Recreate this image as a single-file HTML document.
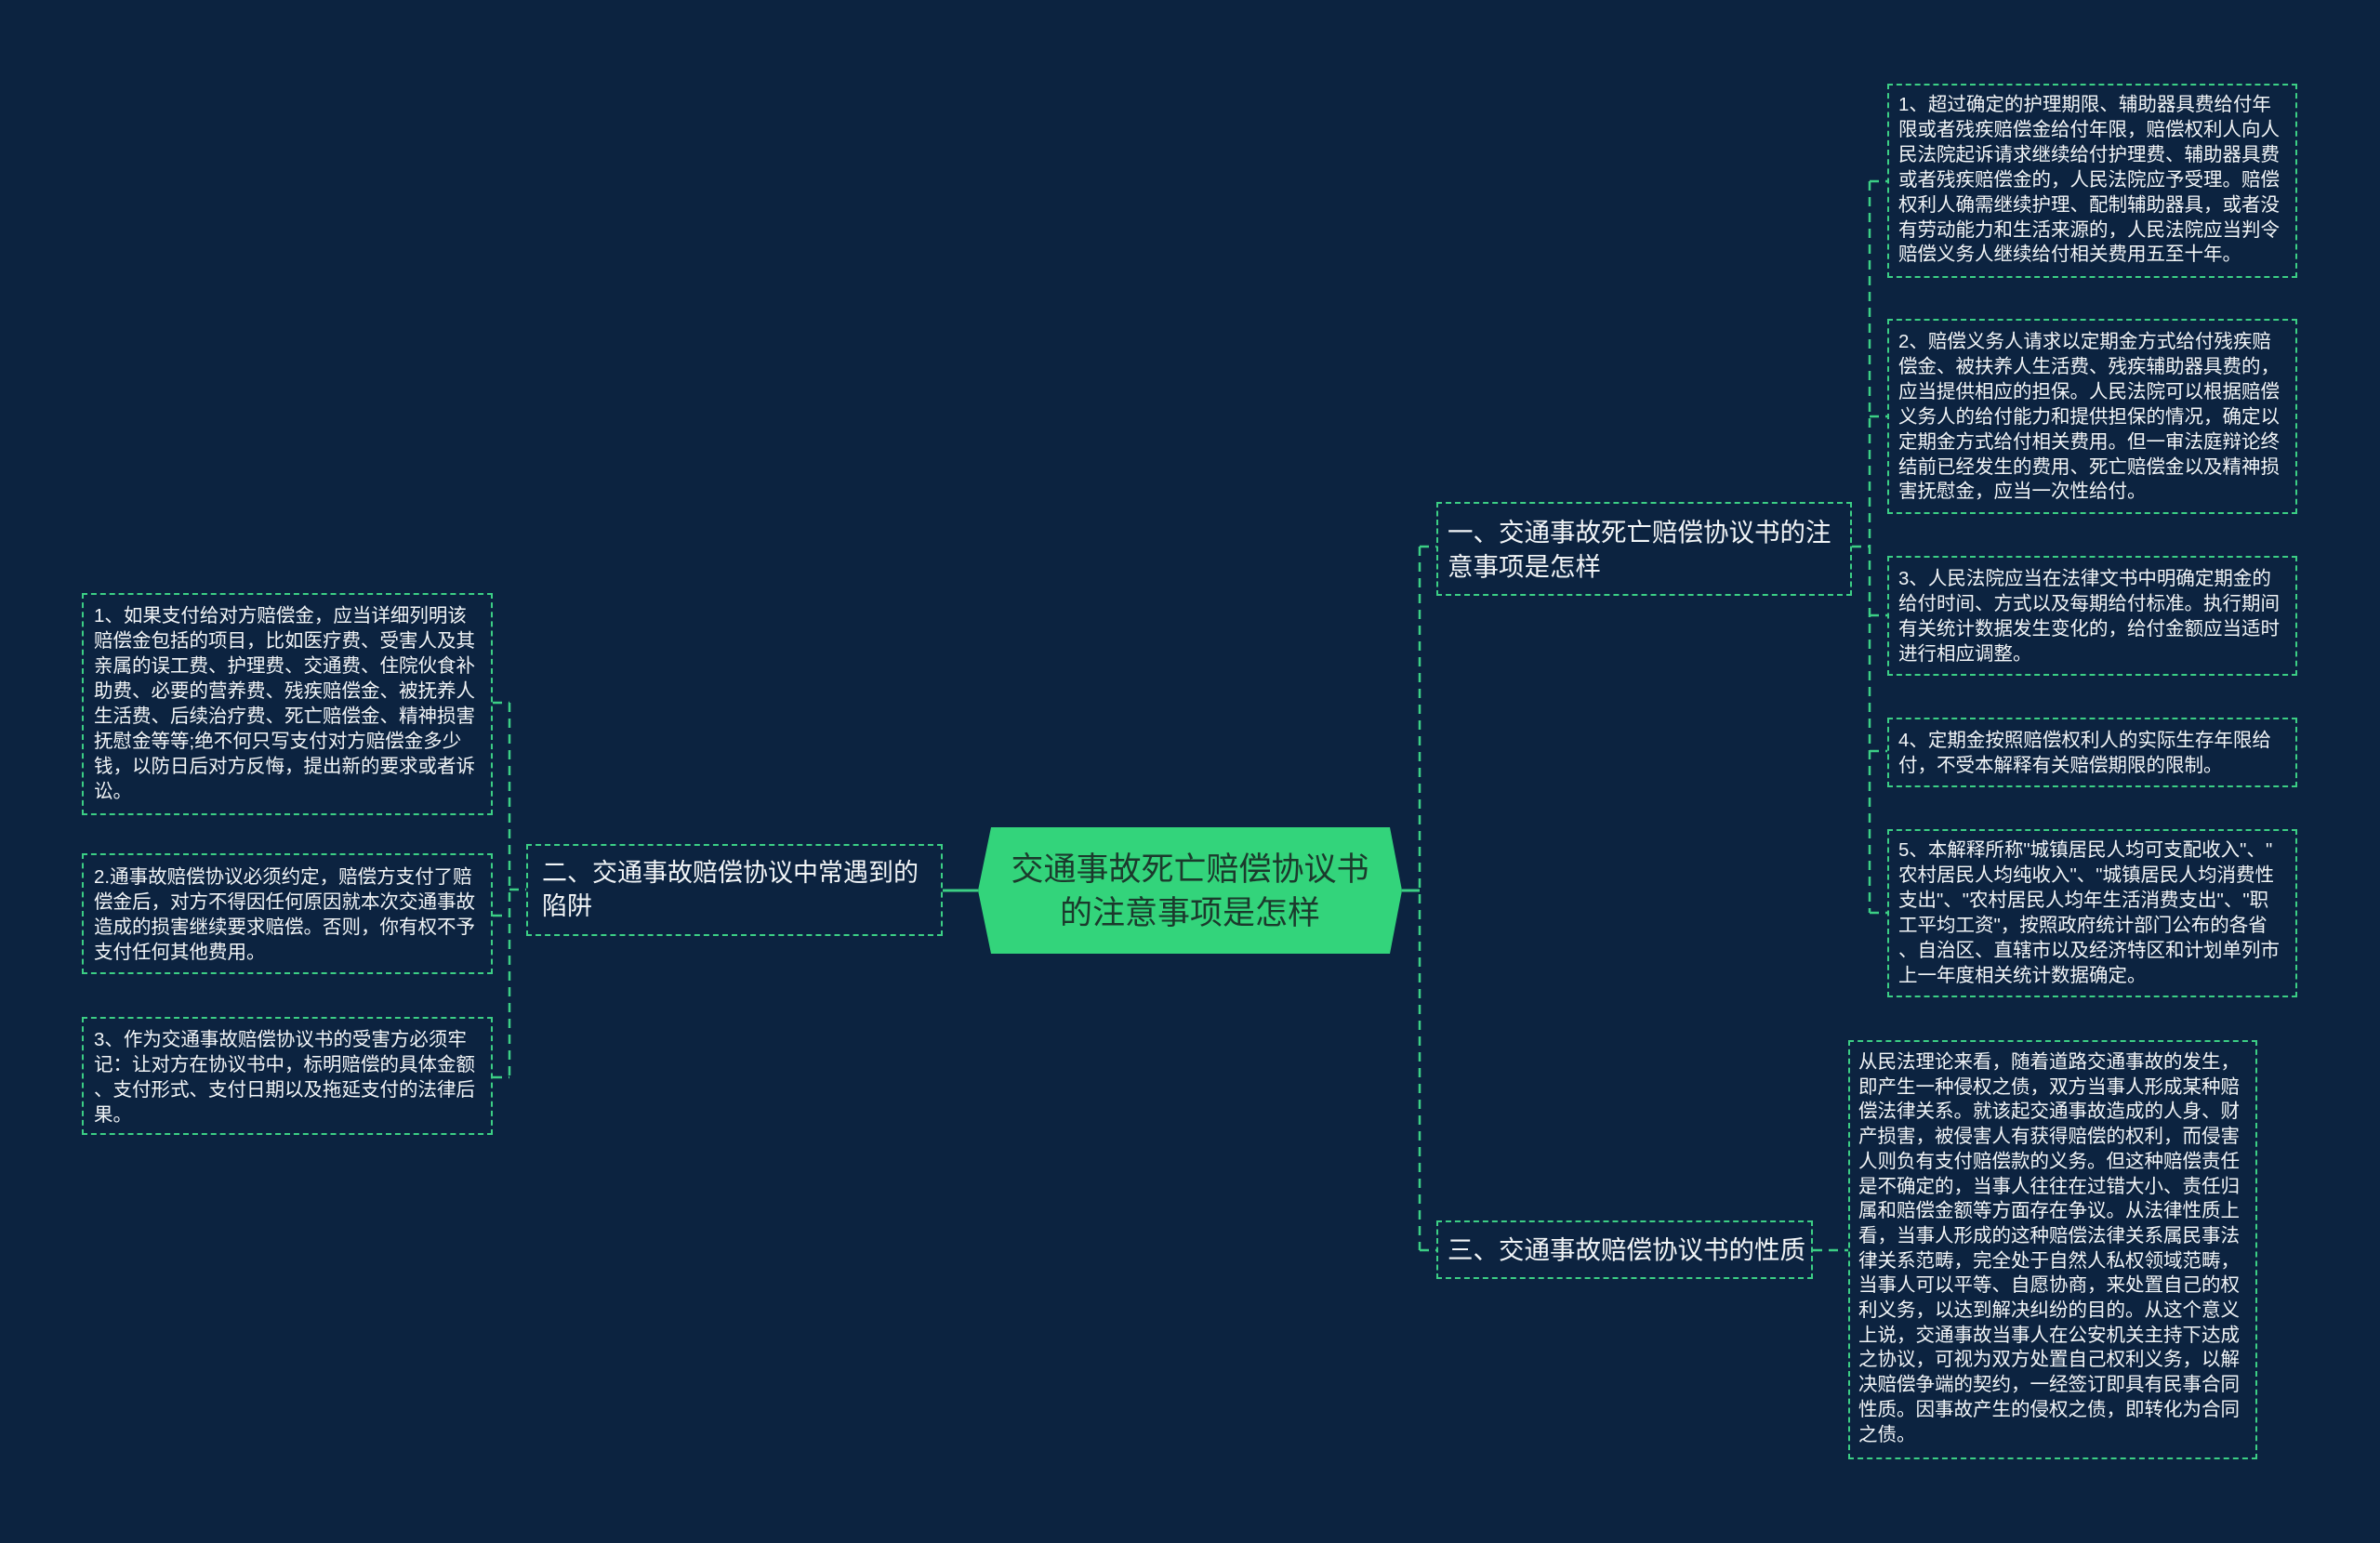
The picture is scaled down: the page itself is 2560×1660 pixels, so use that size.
<!DOCTYPE html>
<html><head><meta charset="utf-8">
<style>
html,body{margin:0;padding:0;}
body{width:2560px;height:1660px;background:#0c2340;position:relative;overflow:hidden;font-family:"Liberation Sans","Noto Sans CJK SC",sans-serif;}
.b{position:absolute;border:2px dashed #3ccf85;box-sizing:border-box;}
.t{position:absolute;color:#f2f5f7;white-space:nowrap;}
svg{position:absolute;left:0;top:0;}
</style></head><body>
<svg width="2560" height="1660">
<g stroke="#3ccf85" stroke-width="2.5" fill="none" stroke-dasharray="10,7">
<line x1="548" y1="756" x2="548" y2="1159"/>
<line x1="530" y1="756" x2="548" y2="756"/>
<line x1="530" y1="985" x2="548" y2="985"/>
<line x1="530" y1="1159" x2="548" y2="1159"/>
<line x1="548" y1="957" x2="566" y2="957"/>
<line x1="1527" y1="588" x2="1527" y2="1345"/>
<line x1="1527" y1="588" x2="1545" y2="588"/>
<line x1="1527" y1="1345" x2="1545" y2="1345"/>
<line x1="2011" y1="195" x2="2011" y2="982"/>
<line x1="1992" y1="588" x2="2011" y2="588"/>
<line x1="2011" y1="195" x2="2030" y2="195"/>
<line x1="2011" y1="448" x2="2030" y2="448"/>
<line x1="2011" y1="662" x2="2030" y2="662"/>
<line x1="2011" y1="808" x2="2030" y2="808"/>
<line x1="2011" y1="982" x2="2030" y2="982"/>
<line x1="1950" y1="1345" x2="1988" y2="1345"/>
</g>
<g stroke="#3ccf85" stroke-width="3">
<line x1="1014" y1="958" x2="1052" y2="958"/>
<line x1="1508" y1="958" x2="1527" y2="958"/>
</g>
<polygon points="1066,890 1495,890 1508,958 1495,1026 1066,1026 1052,958" fill="#33d47b"/>
</svg>
<div class="t" style="left:1052px;width:456px;top:912px;text-align:center;font-size:35px;line-height:47px;color:#1b3a2c;">交通事故死亡赔偿协议书<br>的注意事项是怎样</div>

<div class="b" style="left:566px;top:908px;width:448px;height:99px;"></div>
<div class="t" style="left:583px;top:921px;font-size:27px;line-height:36px;">二、交通事故赔偿协议中常遇到的<br>陷阱</div>

<div class="b" style="left:1545px;top:540px;width:447px;height:101px;"></div>
<div class="t" style="left:1557px;top:554px;font-size:27.5px;line-height:37px;">一、交通事故死亡赔偿协议书的注<br>意事项是怎样</div>

<div class="b" style="left:1545px;top:1313px;width:405px;height:63px;"></div>
<div class="t" style="left:1557px;top:1326px;font-size:27.5px;line-height:37px;">三、交通事故赔偿协议书的性质</div>

<div class="b" style="left:88px;top:638px;width:442px;height:239px;"></div>
<div class="t" style="left:101px;top:649px;font-size:20.5px;line-height:27px;">1、如果支付给对方赔偿金，应当详细列明该<br>赔偿金包括的项目，比如医疗费、受害人及其<br>亲属的误工费、护理费、交通费、住院伙食补<br>助费、必要的营养费、残疾赔偿金、被抚养人<br>生活费、后续治疗费、死亡赔偿金、精神损害<br>抚慰金等等;绝不何只写支付对方赔偿金多少<br>钱，以防日后对方反悔，提出新的要求或者诉<br>讼。</div>

<div class="b" style="left:88px;top:918px;width:442px;height:130px;"></div>
<div class="t" style="left:101px;top:930px;font-size:20.5px;line-height:27px;">2.通事故赔偿协议必须约定，赔偿方支付了赔<br>偿金后，对方不得因任何原因就本次交通事故<br>造成的损害继续要求赔偿。否则，你有权不予<br>支付任何其他费用。</div>

<div class="b" style="left:88px;top:1094px;width:442px;height:127px;"></div>
<div class="t" style="left:101px;top:1105px;font-size:20.5px;line-height:27px;">3、作为交通事故赔偿协议书的受害方必须牢<br>记：让对方在协议书中，标明赔偿的具体金额<br>、支付形式、支付日期以及拖延支付的法律后<br>果。</div>

<div class="b" style="left:2030px;top:90px;width:441px;height:209px;"></div>
<div class="t" style="left:2042px;top:100px;font-size:20.5px;line-height:26.9px;">1、超过确定的护理期限、辅助器具费给付年<br>限或者残疾赔偿金给付年限，赔偿权利人向人<br>民法院起诉请求继续给付护理费、辅助器具费<br>或者残疾赔偿金的，人民法院应予受理。赔偿<br>权利人确需继续护理、配制辅助器具，或者没<br>有劳动能力和生活来源的，人民法院应当判令<br>赔偿义务人继续给付相关费用五至十年。</div>

<div class="b" style="left:2030px;top:343px;width:441px;height:210px;"></div>
<div class="t" style="left:2042px;top:355px;font-size:20.5px;line-height:26.9px;">2、赔偿义务人请求以定期金方式给付残疾赔<br>偿金、被扶养人生活费、残疾辅助器具费的，<br>应当提供相应的担保。人民法院可以根据赔偿<br>义务人的给付能力和提供担保的情况，确定以<br>定期金方式给付相关费用。但一审法庭辩论终<br>结前已经发生的费用、死亡赔偿金以及精神损<br>害抚慰金，应当一次性给付。</div>

<div class="b" style="left:2030px;top:598px;width:441px;height:129px;"></div>
<div class="t" style="left:2042px;top:610px;font-size:20.5px;line-height:26.9px;">3、人民法院应当在法律文书中明确定期金的<br>给付时间、方式以及每期给付标准。执行期间<br>有关统计数据发生变化的，给付金额应当适时<br>进行相应调整。</div>

<div class="b" style="left:2030px;top:772px;width:441px;height:75px;"></div>
<div class="t" style="left:2042px;top:784px;font-size:20.5px;line-height:26.9px;">4、定期金按照赔偿权利人的实际生存年限给<br>付，不受本解释有关赔偿期限的限制。</div>

<div class="b" style="left:2030px;top:892px;width:441px;height:181px;"></div>
<div class="t" style="left:2042px;top:902px;font-size:20.5px;line-height:26.9px;">5、本解释所称"城镇居民人均可支配收入"、"<br>农村居民人均纯收入"、"城镇居民人均消费性<br>支出"、"农村居民人均年生活消费支出"、"职<br>工平均工资"，按照政府统计部门公布的各省<br>、自治区、直辖市以及经济特区和计划单列市<br>上一年度相关统计数据确定。</div>

<div class="b" style="left:1988px;top:1119px;width:440px;height:451px;"></div>
<div class="t" style="left:1999px;top:1130px;font-size:20.5px;line-height:26.7px;">从民法理论来看，随着道路交通事故的发生，<br>即产生一种侵权之债，双方当事人形成某种赔<br>偿法律关系。就该起交通事故造成的人身、财<br>产损害，被侵害人有获得赔偿的权利，而侵害<br>人则负有支付赔偿款的义务。但这种赔偿责任<br>是不确定的，当事人往往在过错大小、责任归<br>属和赔偿金额等方面存在争议。从法律性质上<br>看，当事人形成的这种赔偿法律关系属民事法<br>律关系范畴，完全处于自然人私权领域范畴，<br>当事人可以平等、自愿协商，来处置自己的权<br>利义务，以达到解决纠纷的目的。从这个意义<br>上说，交通事故当事人在公安机关主持下达成<br>之协议，可视为双方处置自己权利义务，以解<br>决赔偿争端的契约，一经签订即具有民事合同<br>性质。因事故产生的侵权之债，即转化为合同<br>之债。</div>
</body></html>
